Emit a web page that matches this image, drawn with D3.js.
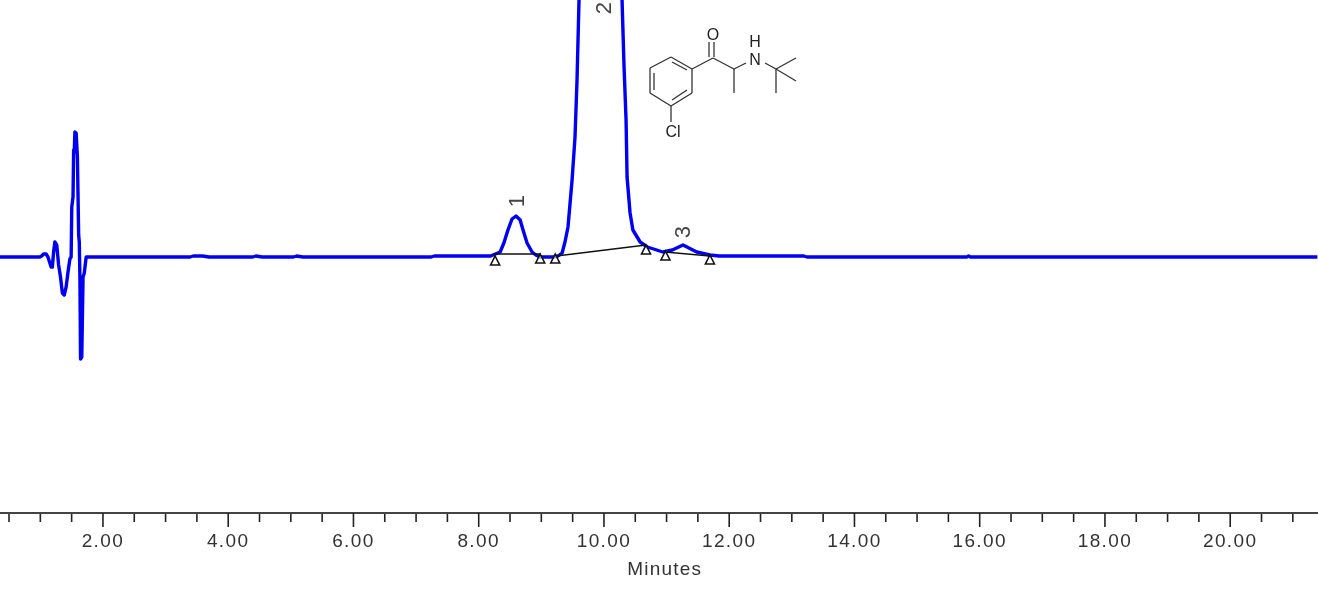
<!DOCTYPE html>
<html><head><meta charset="utf-8">
<script src="https://cdn.jsdelivr.net/npm/d3@7"></script>
<style>html,body{margin:0;padding:0;background:#fff}svg{display:block;filter:blur(0.45px)}
text{font-family:"Liberation Sans",Arial,sans-serif}</style></head>
<body><svg id="c" width="1318" height="596"></svg>
<script>
// retention time (min) and detector response (arbitrary units)
const times=[0.36,1.00,1.03,1.06,1.10,1.13,1.16,1.18,1.20,1.22,1.24,1.27,1.30,1.33,1.36,1.39,1.42,1.45,1.48,1.50,1.51,1.53,1.54,1.55,1.56,1.58,1.60,1.62,1.63,1.64,1.65,1.67,1.69,1.71,1.74,1.80,3.40,3.45,3.60,3.70,4.40,4.45,4.55,5.05,5.10,5.20,7.25,7.30,
8.20,8.35,8.41,8.475,8.54,8.604,8.67,8.716,8.78,8.86,8.92,8.99,9.20,9.275,9.34,9.386,9.434,9.499,9.546,9.578,9.61,9.66,10.00,10.25,10.297,10.329,10.361,10.377,10.425,10.47,10.586,10.70,10.95,11.10,11.27,11.49,11.70,11.85,13.20,13.25,15.80,15.83,15.86,21.40];
const response=[0,0,1,3,3,0,-6,-10,-10,5,15,12,-8,-20,-36,-38,-30,-15,-2,0,50,60,107,105,125,124,100,22,15,-20,-102,-100,-20,-16,0,0,0,1,1,0,0,1,0,0,1,0,0,1,
1,5,14,27,38,41,37,27,14,5,2,0,0,1,4,15,30,77,120,177,257,330,450,330,257,190,137,80,44,27,15,10,5,7,12,5,2,1,1,0,0,1,0,0];
const integrationStart=[8.25,9.25,10.98];
const integrationEnd=[8.99,10.68,11.70];
const integrationStartLevel=[3,1,5];
const integrationEndLevel=[3,12,1];
const peakMarkerTimes=[8.27,8.99,9.23,10.68,10.99,11.70];
const peakMarkerLevels=[-4,-2,-2,7,1,-3];
const peakLabels=["1","2","3"];
const peakLabelTimes=[8.60,10.00,11.25];
const peakLabelLevels=[56,249,25];
const majorTicks=[2,4,6,8,10,12,14,16,18,20];
const minorTicks=d3.range(0.5,21.5,0.5);
const xTitle="Minutes";

// structure drawing: atoms in drawing units and the bonds joining them
const atoms=[[650,68],[671,57],[692,69],[692,93],[671,106],[650,93],[713,58],[713,41],[734,69],[734,93],[746,63],[765,63],[776,69],[796,58],[796,81],[776,93],[671,122],
[654,73],[654,90],[672,62],[687,70],[672,100],[687,90],[709,42],[709,57],[714,42],[714,57]];
const bonds=[[0,1],[1,2],[2,3],[3,4],[4,5],[5,0],[2,6],[6,8],[8,9],[8,10],[11,12],[12,13],[12,14],[12,15],[4,16],[17,18],[19,20],[21,22],[23,24],[25,26]];
const atomLabels=[["O",713,34],["H",755,41],["N",755,59],["Cl",673,131]];

const svg=d3.select("#c");
const x=d3.scaleLinear().domain([0.364,21.41]).range([0,1318]);
const y=d3.scaleLinear().domain([0,257]).range([257,0]);
const axisY=513;

const line=d3.line().x((d,i)=>x(times[i])).y(d=>y(d));
svg.append("path").datum(response).attr("d",line).attr("fill","none")
 .attr("stroke","#0000f0").attr("stroke-width",3.4).attr("stroke-linejoin","round");

// integration baselines
svg.selectAll("line.int").data(integrationStart).join("line").attr("class","int")
 .attr("x1",d=>x(d)).attr("x2",(d,i)=>x(integrationEnd[i]))
 .attr("y1",(d,i)=>y(integrationStartLevel[i])).attr("y2",(d,i)=>y(integrationEndLevel[i]))
 .attr("stroke","#111").attr("stroke-width",1.4);

// peak markers
svg.selectAll("path.mark").data(peakMarkerTimes).join("path").attr("class","mark")
 .attr("d","M0,-5L4.5,4L-4.5,4Z")
 .attr("transform",(d,i)=>`translate(${x(d)},${y(peakMarkerLevels[i])})`)
 .attr("fill","#fff").attr("fill-opacity",.6).attr("stroke","#111").attr("stroke-width",1.6);

// peak labels
svg.selectAll("text.peak").data(peakLabels).join("text").attr("class","peak")
 .text(d=>d).attr("text-anchor","middle").attr("font-size",22).attr("fill","#444")
 .attr("transform",(d,i)=>`translate(${x(peakLabelTimes[i])+8},${y(peakLabelLevels[i])}) rotate(-90)`);

// axis
const g=svg.append("g").attr("transform",`translate(0,${axisY})`);
g.call(d3.axisBottom(x).tickValues(minorTicks.filter(t=>!majorTicks.includes(t))).tickSize(9).tickFormat(""));
g.select(".domain").remove();
g.selectAll("line").attr("stroke","#222").attr("stroke-width",1.6);
g.append("line").attr("x1",0).attr("x2",1318).attr("stroke","#444").attr("stroke-width",2);
const g2=svg.append("g").attr("transform",`translate(0,${axisY})`);
g2.call(d3.axisBottom(x).tickValues(majorTicks).tickSize(14).tickPadding(7).tickFormat(d3.format(".2f")));
g2.select(".domain").remove();
g2.selectAll("line").attr("stroke","#222").attr("stroke-width",1.6);
g2.selectAll("text").attr("font-size",19).attr("letter-spacing","1.4px").attr("fill","#333")
 .style("font-family",'"Liberation Sans",Arial,sans-serif');
svg.append("text").attr("x",x(10.98)).attr("y",575).attr("text-anchor","middle")
 .attr("font-size",19).attr("letter-spacing","1.2px").attr("fill","#333").text(xTitle);

// structure
const s=svg.append("g");
s.selectAll("line").data(bonds).join("line")
 .attr("x1",d=>atoms[d[0]][0]).attr("y1",d=>atoms[d[0]][1])
 .attr("x2",d=>atoms[d[1]][0]).attr("y2",d=>atoms[d[1]][1])
 .attr("stroke","#333").attr("stroke-width",1.3);
s.selectAll("text").data(atomLabels).join("text").text(d=>d[0])
 .attr("x",d=>d[1]).attr("y",d=>d[2]).attr("text-anchor","middle").attr("dominant-baseline","central")
 .attr("font-size",16).attr("fill","#222");
</script></body></html>
